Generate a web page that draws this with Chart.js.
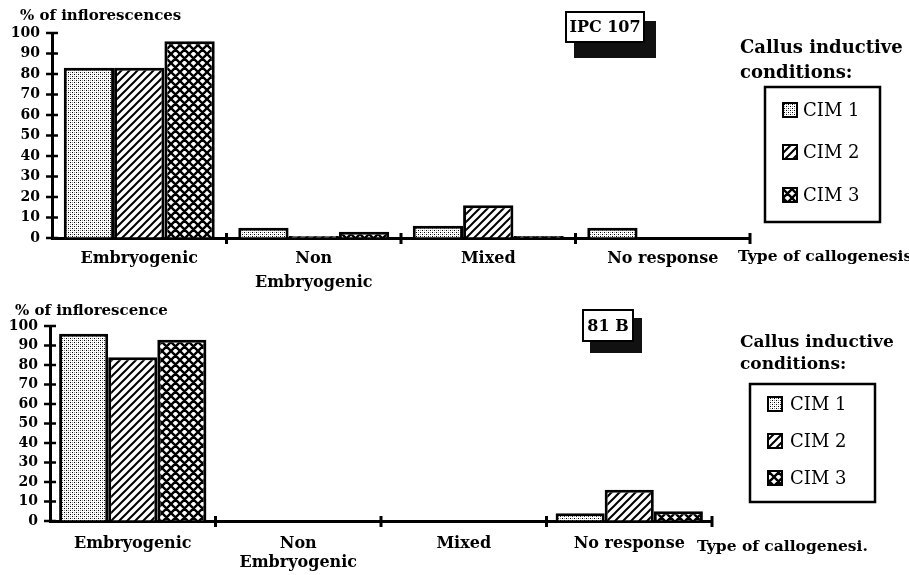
<!DOCTYPE html>
<html>
<head>
<meta charset="utf-8">
<script src="https://cdn.jsdelivr.net/npm/chart.js@4.4.0/dist/chart.umd.min.js"></script>
<style>
  html, body { margin: 0; padding: 0; background: #fff; }
  #wrap { position: relative; width: 909px; height: 575px; overflow: hidden; }
  .panel { position: absolute; left: 0; width: 909px; }
</style>
</head>
<body>
<div id="wrap">
  <div class="panel" style="top:288px;height:287px"><canvas id="chartBottom" width="909" height="287"></canvas></div>
  <div class="panel" style="top:0;height:300px"><canvas id="chartTop" width="909" height="300"></canvas></div>
</div>
<script>
// categories / series
const categories = ['Embryogenic', ['Non', 'Embryogenic'], 'Mixed', 'No response'];
const seriesNames = ['CIM 1', 'CIM 2', 'CIM 3'];
const yTicks = [0, 10, 20, 30, 40, 50, 60, 70, 80, 90, 100];

// IPC 107
const ipcCim1 = [83, 5, 6, 5];
const ipcCim2 = [83, 1, 16, 0];
const ipcCim3 = [96, 3, 1, 0];

// 81 B
const b81Cim1 = [96, 0, 0, 4];
const b81Cim2 = [84, 0, 0, 16];
const b81Cim3 = [93, 0, 0, 5];

const FONT = "'DejaVu Serif', serif";

// fill patterns like the old b/w print
function makePattern(kind) {
  const c = document.createElement('canvas');
  const s = kind === 'dots' ? 4 : (kind === 'hatch' ? 8 : 9);
  c.width = s; c.height = s;
  const g = c.getContext('2d');
  g.fillStyle = '#fff';
  g.fillRect(0, 0, s, s);
  if (kind === 'dots') {
    g.fillStyle = '#000';
    g.fillRect(0, 0, 1, 1);
    g.fillRect(2, 2, 1, 1);
    g.fillStyle = '#999';
    g.fillRect(2, 0, 1, 1);
    g.fillRect(0, 2, 1, 1);
  } else {
    g.strokeStyle = '#000';
    g.lineWidth = kind === 'hatch' ? 2 : 2.4;
    g.beginPath();
    for (let k = -1; k <= 1; k++) {
      g.moveTo(k * s - 1, s + 1); g.lineTo(k * s + s + 1, -1);
      if (kind === 'cross') { g.moveTo(k * s - 1, -1); g.lineTo(k * s + s + 1, s + 1); }
    }
    g.stroke();
  }
  return g.createPattern(c, 'repeat');
}
const fills = [makePattern('dots'), makePattern('hatch'), makePattern('cross')];

// ticks that cross the axis lines
const axisMarks = {
  id: 'axisMarks',
  afterDraw(chart) {
    const {ctx, scales: {x, y}} = chart;
    ctx.save();
    ctx.strokeStyle = '#000';
    ctx.lineWidth = 2.5;
    y.ticks.forEach((t, i) => {
      const py = y.getPixelForTick(i);
      ctx.beginPath(); ctx.moveTo(x.left - 6, py); ctx.lineTo(x.left + 6, py); ctx.stroke();
    });
    const n = x.ticks.length;
    ctx.lineWidth = 3;
    for (let i = 1; i <= n; i++) {
      const px = x.left + (x.right - x.left) * i / n;
      ctx.beginPath(); ctx.moveTo(px, y.bottom - 5); ctx.lineTo(px, y.bottom + 6); ctx.stroke();
    }
    ctx.restore();
  }
};

// titles, cultivar badge and the boxed legend
const decor = {
  id: 'decor',
  afterDraw(chart, args, o) {
    const ctx = chart.ctx;
    ctx.save();
    ctx.fillStyle = '#000';
    ctx.textBaseline = 'middle';
    ctx.textAlign = 'left';
    ctx.font = 'bold 15px ' + FONT;
    ctx.fillText(o.yTitle, o.yTitlePos[0], o.yTitlePos[1]);
    ctx.font = 'bold 15.5px ' + FONT;
    ctx.fillText(o.xTitle, o.xTitlePos[0], o.xTitlePos[1]);

    // badge with shadow
    const sb = o.shadowBox, bb = o.badgeBox;
    ctx.fillStyle = '#111';
    ctx.fillRect(sb[0], sb[1], sb[2], sb[3]);
    ctx.fillStyle = '#fff';
    ctx.fillRect(bb[0], bb[1], bb[2], bb[3]);
    ctx.strokeStyle = '#000';
    ctx.lineWidth = 2;
    ctx.strokeRect(bb[0], bb[1], bb[2], bb[3]);
    ctx.fillStyle = '#000';
    ctx.textAlign = 'center';
    ctx.font = 'bold 16px ' + FONT;
    ctx.fillText(o.badge, bb[0] + bb[2] / 2, bb[1] + bb[3] / 2 + 1);

    // legend
    ctx.textAlign = 'left';
    ctx.font = 'bold ' + o.legendTitleSize + 'px ' + FONT;
    o.legendTitle.forEach((t, i) => ctx.fillText(t, o.legendTitlePos[0], o.legendTitlePos[1] + i * o.legendTitlePos[2]));
    const lb = o.legendBox;
    ctx.lineWidth = 2.5;
    ctx.strokeRect(lb[0], lb[1], lb[2], lb[3]);
    ctx.font = '18px ' + FONT;
    chart.data.datasets.forEach((ds, i) => {
      const ry = o.legendRows[i];
      ctx.fillStyle = ds.backgroundColor;
      ctx.fillRect(o.swatchX, ry - 7, 14, 14);
      ctx.lineWidth = 2;
      ctx.strokeRect(o.swatchX, ry - 7, 14, 14);
      ctx.fillStyle = '#000';
      ctx.fillText(ds.label, o.textX, ry + 1);
    });
    ctx.restore();
  }
};

function buildChart(id, values, layout) {
  return new Chart(document.getElementById(id), {
    type: 'bar',
    data: {
      labels: categories,
      datasets: values.map((v, i) => ({
        label: seriesNames[i],
        data: v,
        backgroundColor: fills[i],
        borderColor: '#000',
        borderWidth: 3,
        categoryPercentage: layout.catPct,
        barPercentage: 1
      }))
    },
    options: {
      responsive: false,
      animation: false,
      layout: { padding: layout.padding },
      plugins: {
        legend: { display: false },
        tooltip: { enabled: false },
        decor: layout.decor
      },
      scales: {
        x: {
          grid: { drawOnChartArea: false, drawTicks: false },
          border: { color: '#000', width: 3 },
          ticks: {
            color: '#000',
            padding: layout.xPad,
            maxRotation: 0,
            autoSkip: false,
            font: { family: FONT, size: 16, weight: 'bold', lineHeight: layout.xLine }
          },
          afterFit: s => { s.height = layout.xHeight; }
        },
        y: {
          min: 0,
          max: 100,
          grid: { drawOnChartArea: false, drawTicks: false },
          border: { color: '#000', width: 3 },
          afterBuildTicks: s => { s.ticks = yTicks.map(v => ({ value: v })); },
          ticks: {
            color: '#000',
            padding: 12,
            autoSkip: false,
            font: { family: FONT, size: 14, weight: 'bold' }
          },
          afterFit: s => { s.width = layout.yWidth; }
        }
      }
    },
    plugins: [axisMarks, decor]
  });
}

buildChart('chartTop', [ipcCim1, ipcCim2, ipcCim3], {
  catPct: 0.865,
  padding: { top: 33, right: 159, left: 0, bottom: 0 },
  yWidth: 52,
  xHeight: 62,
  xPad: 8,
  xLine: 1.55,
  decor: {
    yTitle: '% of inflorescences', yTitlePos: [20, 16],
    xTitle: 'Type of callogenesis', xTitlePos: [738, 257],
    badge: 'IPC 107', badgeBox: [566, 12, 78, 30], shadowBox: [574, 21, 82, 37],
    legendTitle: ['Callus inductive', 'conditions:'], legendTitlePos: [740, 48, 25], legendTitleSize: 18,
    legendBox: [765, 87, 115, 135], legendRows: [110, 152, 195], swatchX: 783, textX: 803
  }
});

buildChart('chartBottom', [b81Cim1, b81Cim2, b81Cim3], {
  catPct: 0.89,
  padding: { top: 38, right: 197, left: 0, bottom: 0 },
  yWidth: 50,
  xHeight: 54,
  xPad: 13,
  xLine: 1.2,
  decor: {
    yTitle: '% of inflorescence', yTitlePos: [15, 23],
    xTitle: 'Type of callogenesi.', xTitlePos: [697, 259],
    badge: '81 B', badgeBox: [583, 22, 50, 31], shadowBox: [590, 30, 52, 35],
    legendTitle: ['Callus inductive', 'conditions:'], legendTitlePos: [740, 55, 22], legendTitleSize: 17,
    legendBox: [750, 96, 125, 118], legendRows: [116, 153, 190], swatchX: 768, textX: 790
  }
});
</script>
</body>
</html>
